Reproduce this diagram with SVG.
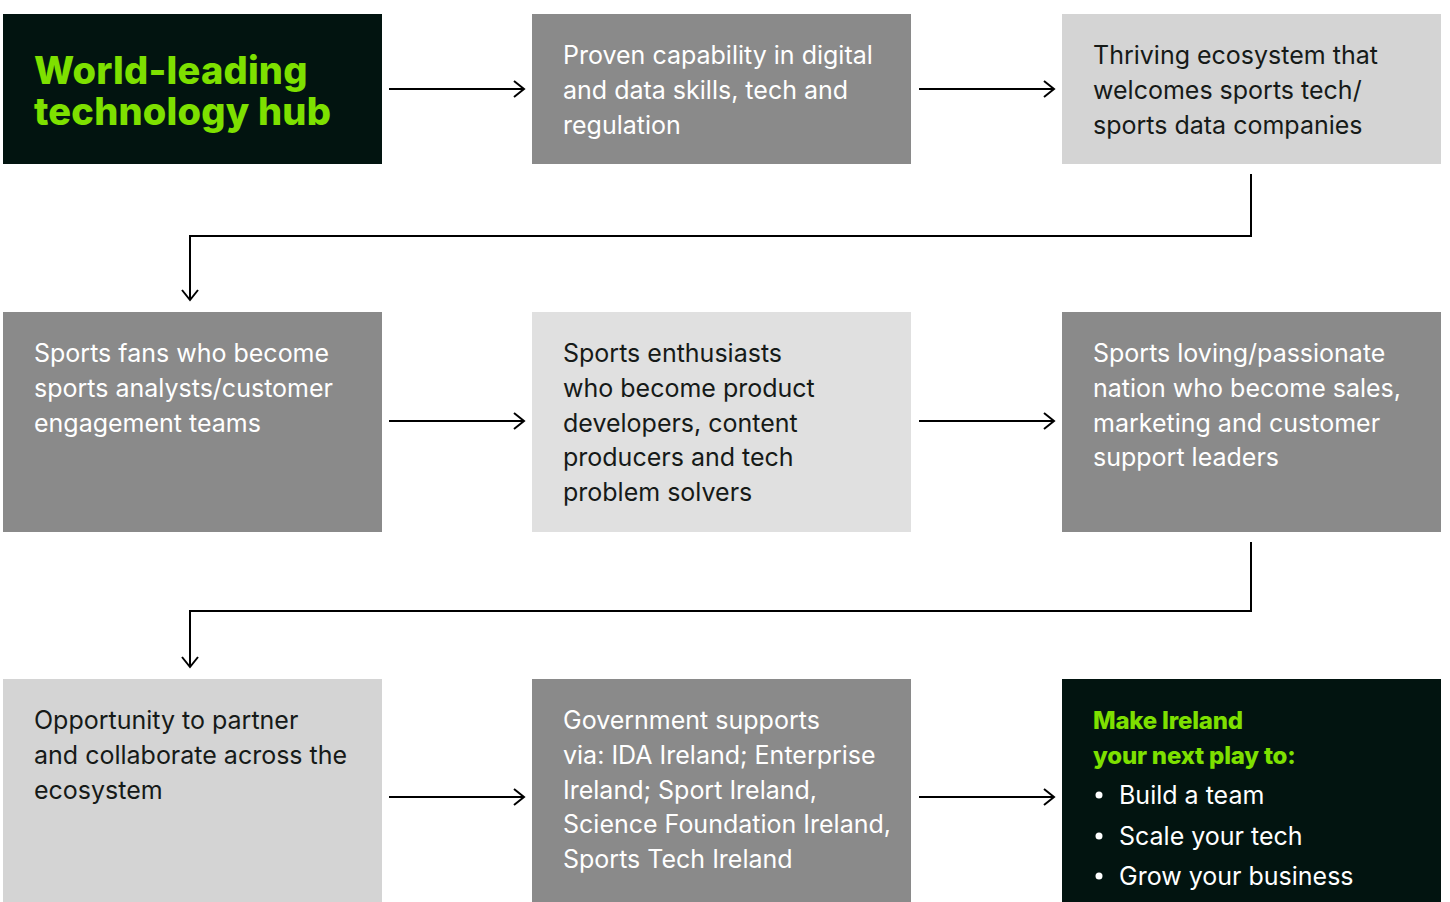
<svg xmlns="http://www.w3.org/2000/svg" width="1450" height="902" viewBox="0 0 1450 902">
<defs>
<style>
.dark{fill:#021410}
.grey{fill:#8a8a8a}
.light{fill:#d4d4d4}
.lighter{fill:#e0e0e0}
text{font-family:Inter,"Noto Sans",sans-serif;font-size:25px;letter-spacing:0px}
.w{fill:#ffffff}
.k{fill:#161a18}
.title{fill:#7ee000;font-weight:800;font-size:38px;letter-spacing:0.2px}
.g{fill:#7ee000;font-weight:800;font-size:24px;letter-spacing:-0.2px}
.con{stroke:#000;stroke-width:2;fill:none}
</style>
<marker id="ah" markerWidth="14" markerHeight="20" refX="12" refY="10" orient="auto" markerUnits="userSpaceOnUse">
<path d="M2,2 L12,10 L2,18" fill="none" stroke="#000" stroke-width="2"/>
</marker>
</defs>
<rect width="1450" height="902" fill="#ffffff"/>
<g id="n1"><rect class="dark" x="3" y="14" width="379" height="150"/>
<text class="title" x="34" y="84">World-leading</text><text class="title" x="34" y="125">technology hub</text></g>
<g id="n2"><rect class="grey" x="532" y="14" width="379" height="150"/>
<text class="w" x="563" y="64">Proven capability in digital</text><text class="w" x="563" y="99">and data skills, tech and</text><text class="w" x="563" y="134">regulation</text></g>
<g id="n3"><rect class="light" x="1062" y="14" width="379" height="150"/>
<text class="k" x="1093" y="64">Thriving ecosystem that</text><text class="k" x="1093" y="99">welcomes sports tech/</text><text class="k" x="1093" y="134">sports data companies</text></g>
<g id="n4"><rect class="grey" x="3" y="312" width="379" height="220"/>
<text class="w" x="34" y="362">Sports fans who become</text><text class="w" x="34" y="397">sports analysts/customer</text><text class="w" x="34" y="432">engagement teams</text></g>
<g id="n5"><rect class="lighter" x="532" y="312" width="379" height="220"/>
<text class="k" x="563" y="362">Sports enthusiasts</text><text class="k" x="563" y="397">who become product</text><text class="k" x="563" y="432">developers, content</text><text class="k" x="563" y="466">producers and tech</text><text class="k" x="563" y="501">problem solvers</text></g>
<g id="n6"><rect class="grey" x="1062" y="312" width="379" height="220"/>
<text class="w" x="1093" y="362">Sports loving/passionate</text><text class="w" x="1093" y="397">nation who become sales,</text><text class="w" x="1093" y="432">marketing and customer</text><text class="w" x="1093" y="466">support leaders</text></g>
<g id="n7"><rect class="light" x="3" y="679" width="379" height="223"/>
<text class="k" x="34" y="729">Opportunity to partner</text><text class="k" x="34" y="764">and collaborate across the</text><text class="k" x="34" y="799">ecosystem</text></g>
<g id="n8"><rect class="grey" x="532" y="679" width="379" height="223"/>
<text class="w" x="563" y="729">Government supports</text><text class="w" x="563" y="764">via: IDA Ireland; Enterprise</text><text class="w" x="563" y="799">Ireland; Sport Ireland,</text><text class="w" x="563" y="833">Science Foundation Ireland,</text><text class="w" x="563" y="868">Sports Tech Ireland</text></g>
<g id="n9"><rect class="dark" x="1062" y="679" width="379" height="223"/>
<text class="g" x="1093" y="729">Make Ireland</text><text class="g" x="1093" y="764">your next play to:</text>
<circle cx="1099" cy="795" r="3.5" fill="#fff"/><circle cx="1099" cy="836" r="3.5" fill="#fff"/><circle cx="1099" cy="876" r="3.5" fill="#fff"/>
<text class="w" x="1119" y="804">Build a team</text><text class="w" x="1119" y="845">Scale your tech</text><text class="w" x="1119" y="885">Grow your business</text></g>
<g id="connectors">
<line class="con" x1="389" y1="89" x2="524" y2="89" marker-end="url(#ah)"/>
<line class="con" x1="919" y1="89" x2="1054" y2="89" stroke-width="2.5" marker-end="url(#ah)"/>
<path class="con" d="M1251,174 V236 H190 V300" marker-end="url(#ah)"/>
<line class="con" x1="389" y1="421" x2="524" y2="421" marker-end="url(#ah)"/>
<line class="con" x1="919" y1="421" x2="1054" y2="421" marker-end="url(#ah)"/>
<path class="con" d="M1251,542 V611 H190 V667" marker-end="url(#ah)"/>
<line class="con" x1="389" y1="797" x2="524" y2="797" marker-end="url(#ah)"/>
<line class="con" x1="919" y1="797" x2="1054" y2="797" stroke-width="2.5" marker-end="url(#ah)"/>
</g>
</svg>
